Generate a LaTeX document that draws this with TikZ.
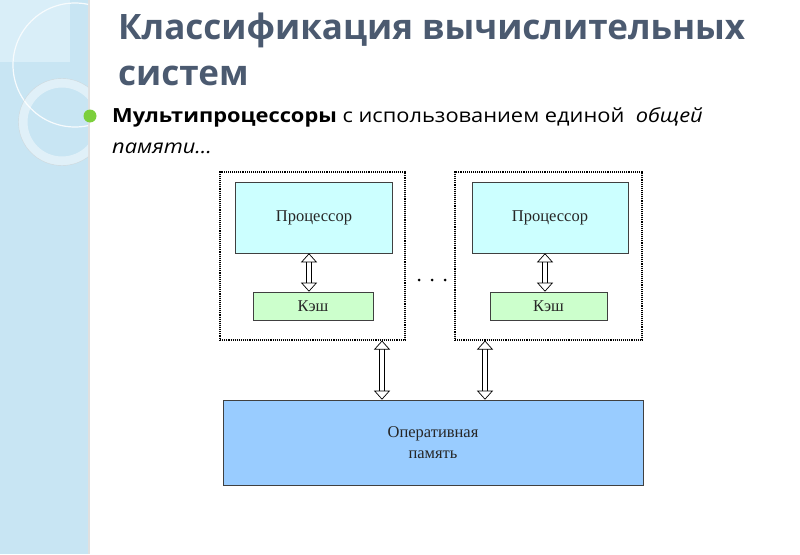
\documentclass[tikz,border=0pt]{standalone}
\usepackage{fontspec}
\setmainfont{Liberation Serif}
\newfontfamily\slidefont{Open Sans}
\newfontfamily\bulletfont[FakeStretch=1.12]{Open Sans}
\usetikzlibrary{arrows.meta}
\definecolor{bandblue}{HTML}{C8E5F3}
\definecolor{bandlight}{HTML}{D9EEF8}
\definecolor{titlegray}{HTML}{4B5A70}
\definecolor{bulletgreen}{HTML}{7CCF3C}
\definecolor{cpufill}{HTML}{CCFFFF}
\definecolor{cachefill}{HTML}{CCFFCC}
\definecolor{memfill}{HTML}{99CCFF}
\tikzset{
	block/.style={draw=black!75, line width=0.6pt, inner sep=0pt, font=\fontsize{16.5}{21}\selectfont, text=black!85, align=center},
	frame/.style={draw, line width=1.1pt, densely dotted, inner sep=0pt},
	bus/.style={double=white, double distance=4.5pt, line width=0.8pt, {Triangle[open, fill=white, length=9pt, width=16pt, line width=0.7pt]}-{Triangle[open, fill=white, length=9pt, width=16pt, line width=0.7pt]}},
}

\begin{document}
\begin{tikzpicture}[x=1pt, y=-1pt]
		%%%%% START %%%%%
		\useasboundingbox (0, 0) rectangle (800, 554);
		
		% left band
		\fill[bandblue] (0, 0) rectangle (88, 554);
		\fill[bandlight] (0, 0) rectangle (70, 62);
		\fill[black!12] (88, 0) rectangle (89.5, 554);
		\begin{scope}
			\clip (0, 0) rectangle (88, 554);
			\draw[white!85!bandblue, line width=1.2pt] (75, 65) circle (62);
			\draw[white, line width=9pt, opacity=0.45] (62, 122) circle (39);
			\draw[black!20, line width=0.4pt, opacity=0.6] (62, 122) circle (43.5);
		\end{scope}
		
		% title
		\node[anchor=base west, inner sep=0pt, text=titlegray, font=\slidefont\bfseries\fontsize{35}{46}\selectfont] (title1) at (118, 39) {Классификация вычислительных};
		\node[anchor=base west, inner sep=0pt, text=titlegray, font=\slidefont\bfseries\fontsize{35}{46}\selectfont] (title2) at (118, 85) {систем};
		
		% bullet line
		\fill[bulletgreen] (90, 116) circle (6.5);
		\node[anchor=base west, inner sep=0pt, font=\bulletfont\fontsize{19.5}{28}\selectfont] (line1) at (112, 122) {\textbf{Мультипроцессоры} с использованием единой \ \textit{общей}};
		\node[anchor=base west, inner sep=0pt, font=\bulletfont\fontsize{19.5}{28}\selectfont] (line2) at (112, 153) {\textit{памяти…}};
		
		% processors with caches
		\node[frame, minimum width=185pt, minimum height=168pt] (frame1) at (312.5, 256) {};
		\node[frame, minimum width=187pt, minimum height=168pt] (frame2) at (548.5, 256) {};
		\node[block, fill=cpufill, minimum width=157pt, minimum height=71pt] (cpu1) at (314, 217.5) {Процессор};
		\node[block, fill=cpufill, minimum width=156pt, minimum height=71pt] (cpu2) at (550, 217.5) {Процессор};
		\node[block, fill=cachefill, minimum width=120pt, minimum height=28pt] (cache1) at (313, 306) {Кэш};
		\node[block, fill=cachefill, minimum width=117pt, minimum height=28pt] (cache2) at (548.5, 306) {Кэш};
		
		% memory
		\node[block, fill=memfill, minimum width=420pt, minimum height=85pt] (mem) at (433, 442.5) {Оперативная\\память};
		
		\draw[bus] ([xshift=-5pt]cpu1.south) -- ([xshift=-5pt]cpu1.south |- cache1.north);
		\draw[bus] ([xshift=-5pt]cpu2.south) -- ([xshift=-5pt]cpu2.south |- cache2.north);
		\draw[bus] ([xshift=69.5pt]frame1.south) -- ([xshift=69.5pt]frame1.south |- mem.north);
		\draw[bus] ([xshift=-63.5pt]frame2.south) -- ([xshift=-63.5pt]frame2.south |- mem.north);
		
		\foreach \dx in {419, 432, 445}
			\fill (\dx, 280) circle (1.5);
		
		%%%%% END %%%%%
	\end{tikzpicture}
\end{document}
